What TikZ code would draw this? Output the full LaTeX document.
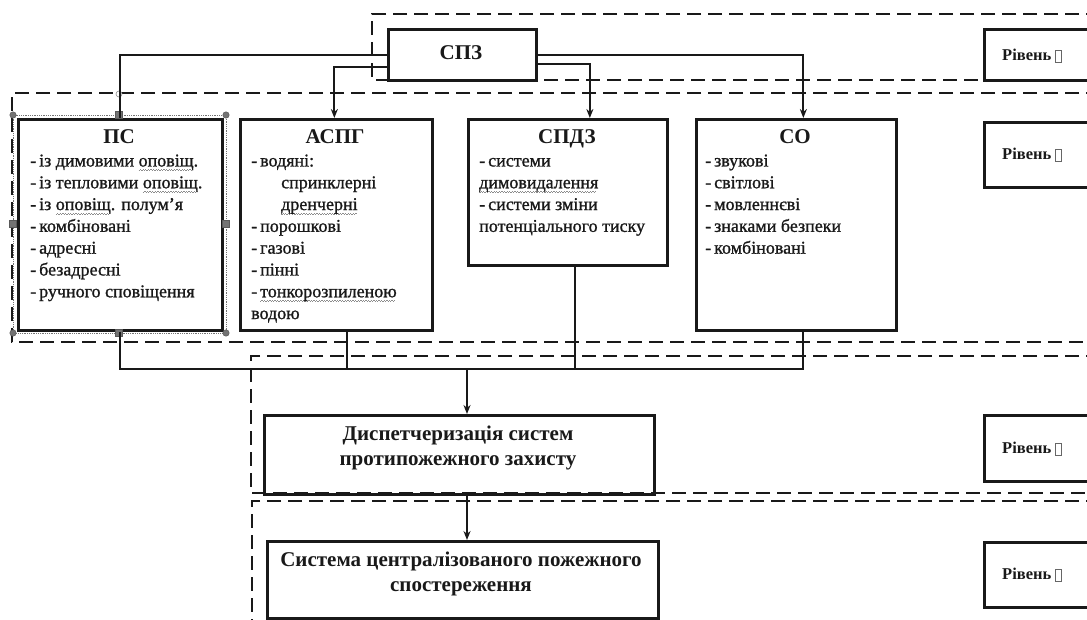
\documentclass[tikz,border=0pt]{standalone}
\usepackage{fontspec}
\setmainfont{Liberation Serif}
\newfontfamily\bodyfont[FakeBold=1.1]{Liberation Serif}
\usetikzlibrary{arrows.meta,calc}
\newcommand\wvy[1]{\leavevmode\setbox0\hbox{#1}\rlap{\hbox to\wd0{\color{black!45}\leaders\hbox{\rule[-4.6pt]{1.3pt}{0.8pt}\rule[-3.7pt]{1.3pt}{0.8pt}}\hfill}}\box0}
\newcommand\missglyph{{\color{black!60}\setlength\fboxsep{0pt}\setlength\fboxrule{0.8pt}\fbox{\rule[-1.5pt]{0pt}{11pt}\hspace{5pt}}}}
\definecolor{ink}{gray}{0.1}
\tikzset{
  box/.style={draw=ink, line width=2.7pt, anchor=north west, inner sep=0pt},
  conn/.style={draw=ink, line width=1.9pt},
  arr/.style={conn, -{Stealth[length=9pt,width=7pt]}},
  dsh/.style={draw=ink, line width=2.5pt, dash pattern=on 14pt off 7pt},
  ttl/.style={font=\fontsize{21}{24}\bfseries\selectfont, anchor=base, inner sep=0pt, text=ink},
  body/.style={font=\bodyfont\fontsize{18}{21.8}\selectfont, align=left, anchor=north west, inner sep=0pt, text=ink},
  big/.style={font=\fontsize{21}{25}\bfseries\selectfont, align=center, anchor=north, inner sep=0pt, text=ink},
  lvl/.style={font=\fontsize{16.5}{20}\bfseries\selectfont, anchor=base west, inner sep=0pt, text=ink},
  hnd/.style={fill=black!55, draw=black!65, line width=0.5pt},
}
\begin{document}
\begin{tikzpicture}[x=1pt,y=-1pt]
\useasboundingbox (0,0) rectangle (1087,619);
\clip (0,0) rectangle (1087,619);
\fill[white] (0,0) rectangle (1087,619);

% dashed level regions
\draw[dsh] (1100,14) -- (372,14) -- (372,80) -- (1100,80);
\draw[dsh] (1100,93) -- (12,93) -- (12,342) -- (1100,342);
\draw[dsh] (1100,356) -- (251,356) -- (251,493) -- (1100,493);
\draw[dsh] (1100,501) -- (252,501) -- (252,640);

% boxes
\node[box, minimum width=148pt, minimum height=51pt] (spz) at (387,28) {};
\node[box, minimum width=204pt, minimum height=211pt] (ps) at (17,118) {};
\node[box, minimum width=192pt, minimum height=211pt] (aspg) at (239,118) {};
\node[box, minimum width=199pt, minimum height=146pt] (spdz) at (467,118) {};
\node[box, minimum width=200pt, minimum height=211pt] (so) at (695,118) {};
\node[box, minimum width=390pt, minimum height=79pt] (disp) at (263,414) {};
\node[box, minimum width=391pt, minimum height=77pt] (cent) at (266,540) {};
\node[box, minimum width=130pt, minimum height=51pt] (l1) at (983,28) {};
\node[box, minimum width=130pt, minimum height=65pt] (l2) at (983,121) {};
\node[box, minimum width=130pt, minimum height=66pt] (l3) at (983,414) {};
\node[box, minimum width=130pt, minimum height=65pt] (l4) at (983,541) {};

% selection handles around PS
\draw[black!55, densely dotted, line width=0.8pt] (13,115) rectangle (226,333);
\foreach \p in {(13,115),(226,115),(13,333),(226,333)} \fill[hnd] \p circle (3.2pt);
\foreach \p in {(119,115),(119,333),(13,224),(226,224)} \fill[hnd] \p ++(-3.5,-3.5) rectangle ++(7,7);
\draw[black!45, fill=white, line width=0.6pt] (119,94) circle (3pt);

% texts
\node[ttl] (spz-t) at (461,59.5) {СПЗ};
\node[ttl] (ps-t) at (119,143.5) {ПС};
\node[ttl] (aspg-t) at (335,143.5) {АСПГ};
\node[ttl] (spdz-t) at (567,143.5) {СПДЗ};
\node[ttl] (so-t) at (795,143.5) {СО};

\node[body] (ps-b) at (30,151) {\strut-\,із димовими \wvy{оповіщ}.\\-\,із тепловими \wvy{оповіщ}.\\-\,із \wvy{оповіщ}. полум’я\\-\,комбіновані\\-\,адресні\\-\,безадресні\\-\,ручного сповіщення};
\node[body] (aspg-b) at (251,151) {\strut-\,водяні:\\\hspace*{30pt}спринклерні\\\hspace*{30pt}\wvy{дренчерні}\\-\,порошкові\\-\,газові\\-\,пінні\\-\,\wvy{тонкорозпиленою}\\водою};
\node[body] (spdz-b) at (479,151) {\strut-\,системи\\\wvy{димовидалення}\\-\,системи зміни\\потенціального тиску};
\node[body] (so-b) at (705,151) {\strut-\,звукові\\-\,світлові\\-\,мовленнєві\\-\,знаками безпеки\\-\,комбіновані};

\node[big] (disp-t) at (458,422.5) {\strut Диспетчеризація систем\\протипожежного захисту};
\node[big] (cent-t) at (461,548.5) {\strut Система централізованого пожежного\\спостереження};

\node[lvl] (l1-t) at (1002,60.5) {Рівень \missglyph};
\node[lvl] (l2-t) at (1002,159) {Рівень \missglyph};
\node[lvl] (l3-t) at (1002,453) {Рівень \missglyph};
\node[lvl] (l4-t) at (1002,579) {Рівень \missglyph};

% connectors from SPZ
\coordinate (spdzT) at ($(spdz.north)+(22,0)$);
\coordinate (soT) at ($(so.north)+(7,0)$);
\draw[conn] (spz.west) -| (ps.north);
\draw[arr] ($(spz.west)+(0,12.5)$) -| ($(aspg.north)+(-2,0)$);
\draw[arr] ($(spz.east)+(0,9.5)$) -| (spdzT);
\draw[arr] (spz.east) -| (soT);

% bottom bus
\coordinate (bus) at (467,369);
\coordinate (aspgB) at ($(aspg.south)+(11,0)$);
\coordinate (spdzB) at ($(spdz.south)+(7.5,0)$);
\coordinate (soB) at ($(so.south)+(7,0)$);
\draw[conn] (ps.south) |- (bus) -| (soB);
\draw[conn] (aspgB) -- (aspgB |- bus);
\draw[conn] (spdzB) -- (spdzB |- bus);
\draw[arr] (bus) -- (bus |- disp.north);
\draw[arr] (disp.south -| bus) -- (bus |- cent.north);
\end{tikzpicture}
\end{document}
